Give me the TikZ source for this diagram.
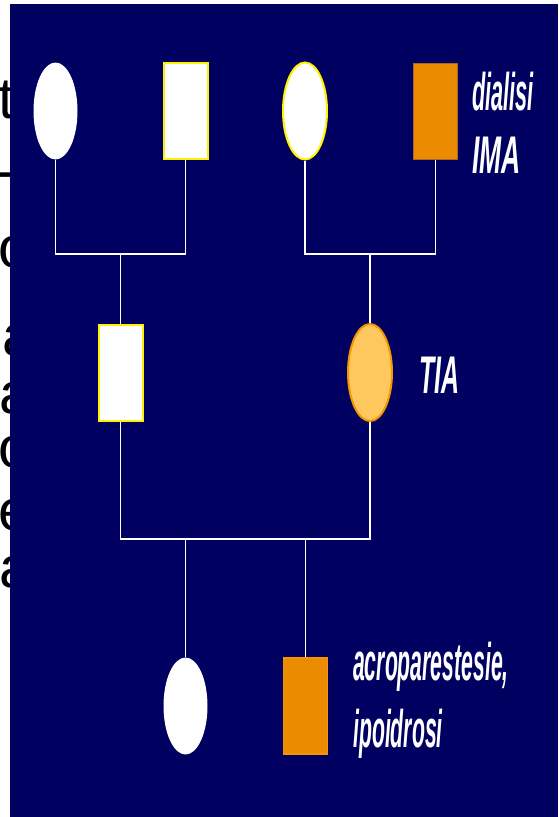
\documentclass[tikz,border=0pt]{standalone}
\usepackage{fontspec}
\setmainfont{Liberation Sans}
\usetikzlibrary{shapes.geometric}

\definecolor{slideblue}{RGB}{0,0,96}
\definecolor{affected}{RGB}{235,140,0}
\definecolor{carrier}{RGB}{255,200,95}
\definecolor{rimorange}{RGB}{245,150,0}
\definecolor{rimbrown}{RGB}{170,100,40}

\newcommand{\notefont}{\bfseries\itshape\fontsize{53}{63}\selectfont}
\newcommand{\cutfont}{\fontsize{58}{66}\selectfont}
\newcommand{\squeeze}[2][0.41]{\scalebox{#1}[1]{#2}}

\begin{document}
\begin{tikzpicture}[
  x=1pt, y=-1pt,
  female/.style={ellipse, inner sep=0pt, minimum width=44pt, minimum height=97pt, fill=white},
  male/.style={rectangle, inner sep=0pt, minimum width=44pt, minimum height=96pt, fill=white},
  rim/.style={draw=yellow, line width=2pt},
  line/.style={draw=white, line width=1.5pt},
  note/.style={inner sep=0pt, anchor=base west, text=white, font=\notefont},
  cut/.style={inner sep=0pt, anchor=base west, text=black, font=\cutfont}
]
\useasboundingbox (0,0) rectangle (558,817);

% slide text cut off at the left edge
\node[cut, anchor=base east] (cut1) at (15,118) {et};
\node[cut] (cut2) at (-4,190) {-};
\node[cut] (cut3) at (-2,267) {o};
\node[cut] (cut4) at (2,355) {a};
\node[cut] (cut5) at (-1,413) {a};
\node[cut] (cut6) at (-2,467) {o};
\node[cut] (cut7) at (-2,530) {e};
\node[cut] (cut8) at (-1,587) {a};
\fill[slideblue] (10,4) rectangle (558,817);

% grandparents
\node[female] (gma1) at (55.5,111) {};
\node[male, rim] (gpa1) at (185.5,111) {};
\node[female, rim] (gma2) at (305,111) {};
\node[male, fill=affected, draw=rimbrown, line width=1pt] (gpa2) at (435.5,111) {};
% parents
\node[male, rim] (dad) at (120.5,372.5) {};
\node[female, fill=carrier, draw=rimorange, line width=2pt] (mum) at (370,372.5) {};
% children
\node[female] (girl) at (185.5,706) {};
\node[male, fill=affected, draw=rimorange, line width=1.5pt] (boy) at (305.5,706) {};

\node[note] (dialisi) at (472,110) {\squeeze{dialisi}};
\node[note] (ima) at (472,173) {\squeeze[0.5]{IMA}};
\node[note] (tia) at (419,393) {\squeeze[0.47]{TIA}};
\node[note] (acro) at (353,680) {\squeeze[0.4]{acroparestesie,}};
\node[note] (ipo) at (353,747) {\squeeze[0.4]{ipoidrosi}};

\coordinate (m1) at (120.5,254);
\coordinate (m2) at (370,254);
\coordinate (m3) at (245,539);

\draw[line] (gma1.south) |- (m1) -| (gpa1.south);
\draw[line] (m1) -- (dad.north);
\draw[line] (gma2.south) |- (m2) -| (gpa2.south);
\draw[line] (m2) -- (mum.north);
\draw[line] (dad.south) |- (m3) -| (mum.south);
\draw[line] (girl.north) -- (girl.north |- m3);
\draw[line] (boy.north) -- (boy.north |- m3);
\end{tikzpicture}
\end{document}
